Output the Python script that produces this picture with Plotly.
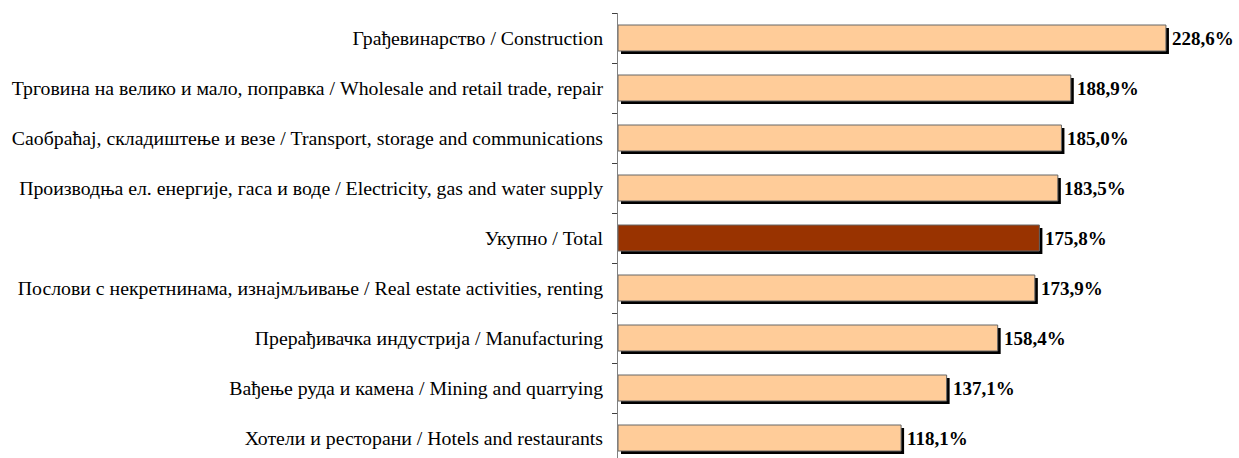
import plotly.graph_objects as go

categories = [
    "Хотели и ресторани / Hotels and restaurants",
    "Вађење руда и камена / Mining and quarrying",
    "Прерађивачка индустрија / Manufacturing",
    "Послови с некретнинама, изнајмљивање / Real estate activities, renting",
    "Укупно / Total",
    "Производња ел. енергије, гаса и воде / Electricity, gas and water supply",
    "Саобраћај, складиштење и везе / Transport, storage and communications",
    "Трговина на велико и мало, поправка / Wholesale and retail trade, repair",
    "Грађевинарство / Construction",
]
values = [118.1, 137.1, 158.4, 173.9, 175.8, 183.5, 185.0, 188.9, 228.6]
labels = [f"{v:.1f}%".replace(".", ",") for v in values]

colors = ["#993300" if c.startswith("Укупно") else "#FFCC99" for c in categories]

FONT = "'Liberation Serif', 'Times New Roman', serif"

px_per_unit = 2.397
shadow_dx = 3 / px_per_unit
bar_w = 0.52
shadow_dy = 3 / 50

fig = go.Figure()
# shadow
fig.add_trace(go.Bar(
    y=categories, x=values, base=[shadow_dx] * len(values), orientation="h",
    width=bar_w, offset=-bar_w / 2 - shadow_dy,
    marker=dict(color="black", line=dict(width=0)),
    hoverinfo="skip", showlegend=False,
))
# main bars
fig.add_trace(go.Bar(
    y=categories, x=values, orientation="h",
    width=bar_w, offset=-bar_w / 2,
    marker=dict(color=colors, line=dict(color="#666666", width=1)),
    showlegend=False,
))

for c, v, t in zip(categories, values, labels):
    fig.add_annotation(
        x=v + shadow_dx, y=c, text=f"<b>{t}</b>", showarrow=False,
        xanchor="left", yanchor="middle", xshift=1,
        font=dict(family=FONT, size=19, color="black"),
    )

fig.update_layout(
    width=1239, height=458,
    margin=dict(l=618, r=0, t=13, b=0),
    barmode="overlay",
    plot_bgcolor="white", paper_bgcolor="white",
    font=dict(family=FONT, size=19.8, color="black"),
    xaxis=dict(visible=False, range=[0, (1239 - 618) / px_per_unit], fixedrange=True),
    yaxis=dict(
        type="category", categoryorder="array", categoryarray=categories,
        range=[-0.4, 8.5],
        showline=True, linecolor="#808080", linewidth=1,
        ticks="outside", tickson="boundaries", ticklen=5, tickcolor="#404040",
        showgrid=False, zeroline=False,
        tickfont=dict(family=FONT, size=19.8, color="black"),
        ticklabelstandoff=10,
    ),
)

fig.write_html("out.html")
